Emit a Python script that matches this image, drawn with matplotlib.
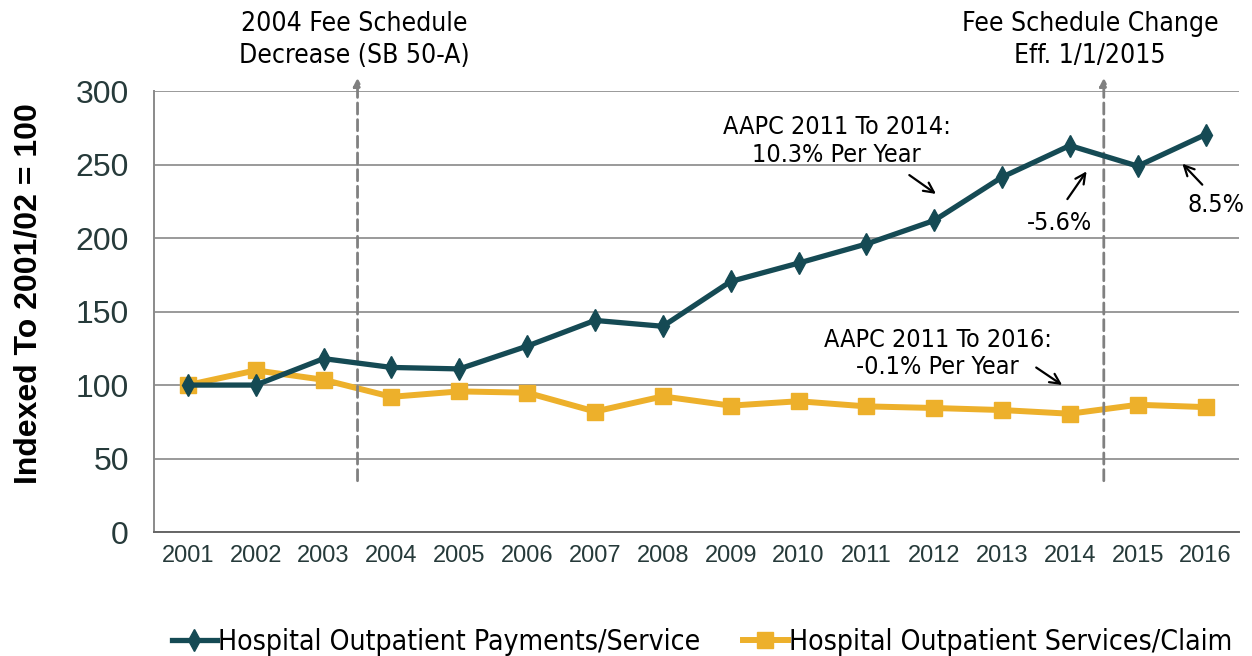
import matplotlib
matplotlib.use('Agg')
import matplotlib.pyplot as plt

years = ['2001', '2002', '2003', '2004', '2005', '2006', '2007', '2008',
         '2009', '2010', '2011', '2012', '2013', '2014', '2015', '2016']
payments_per_service = [100, 100, 118, 112, 111, 126.5, 144, 140,
                        170.5, 183, 196, 212, 241.5, 263, 249, 270.5]
services_per_claim = [100, 110, 103.6, 92, 95.7, 94.8, 82, 92.3,
                      86, 89, 85.5, 84.4, 83, 80.5, 86.6, 85]

dark = '#154a54'
gold = '#edb02b'
tick_col = '#263a3a'

plt.rcParams['font.family'] = ['Liberation Sans', 'DejaVu Sans']
cond = dict(family='DejaVu Sans', stretch='condensed')

fig = plt.figure(figsize=(12.52, 6.56), dpi=100)
ax = fig.add_axes([0.123, 0.189, 0.867, 0.672])

x = list(range(len(years)))
ax.plot(x, payments_per_service, color=dark, lw=3.8, marker='d', ms=11,
        label='Hospital Outpatient Payments/Service', zorder=4)
ax.plot(x, services_per_claim, color=gold, lw=4.3, marker='s', ms=12,
        label='Hospital Outpatient Services/Claim', zorder=3)

ax.set_xlim(-0.5, 15.5)
ax.set_ylim(0, 300)
ax.set_yticks(range(0, 301, 50))
ax.set_xticks(x)
ax.set_xticklabels(years)
ax.tick_params(axis='x', length=0, pad=9, labelsize=17, labelcolor=tick_col)
ax.tick_params(axis='y', length=0, pad=18, labelsize=23, labelcolor=tick_col)
ax.yaxis.grid(True, color='#9a9a9a', lw=1.4)
ax.set_axisbelow(True)
for s in ['top', 'right']:
    ax.spines[s].set_visible(False)
ax.spines['left'].set_color('#8a8a8a')
ax.spines['bottom'].set_color('#666666')
ax.spines['left'].set_linewidth(1.4)
ax.spines['bottom'].set_linewidth(1.4)

ax.set_ylabel('Indexed To 2001/02 = 100', fontsize=23, fontweight='bold')
ax.yaxis.set_label_coords(-0.102, 0.54)

# policy change markers
for xv in [2.5, 13.5]:
    ax.annotate('', xy=(xv, 311), xytext=(xv, 33), annotation_clip=False,
                arrowprops=dict(arrowstyle='-|>', color='#808080', lw=2,
                                linestyle=(0, (4, 2)), mutation_scale=12))
ax.text(2.45, 334.5, '2004 Fee Schedule\nDecrease (SB 50-A)', ha='center', va='center',
        fontsize=19, linespacing=1.3, clip_on=False, **cond)
ax.text(13.3, 334.5, 'Fee Schedule Change\nEff. 1/1/2015', ha='center', va='center',
        fontsize=19, linespacing=1.3, clip_on=False, **cond)

arrow = dict(arrowstyle='->', color='black', lw=1.6, mutation_scale=18)
ax.text(9.56, 266, 'AAPC 2011 To 2014:\n10.3% Per Year', ha='center', va='center',
        fontsize=18, linespacing=1.2, **cond)
ax.annotate('', xy=(11.06, 229), xytext=(10.6, 244), arrowprops=arrow)
ax.text(12.85, 210, '-5.6%', ha='center', va='center', fontsize=18, **cond)
ax.annotate('', xy=(13.27, 247), xytext=(12.94, 225), arrowprops=arrow)
ax.text(15.15, 222.5, '8.5%', ha='center', va='center', fontsize=18, clip_on=False, **cond)
ax.annotate('', xy=(14.63, 252), xytext=(14.98, 235), arrowprops=arrow)
ax.text(11.05, 121.5, 'AAPC 2011 To 2016:\n-0.1% Per Year', ha='center', va='center',
        fontsize=18, linespacing=1.2, **cond)
ax.annotate('', xy=(12.92, 99), xytext=(12.47, 113), arrowprops=arrow)

ax.legend(loc='upper center', bbox_to_anchor=(0.505, -0.16), ncol=2, frameon=False,
          prop=dict(size=20.3, **cond), handlelength=1.6, handletextpad=0.05,
          columnspacing=1.5)

plt.savefig('out.png', dpi=100)
